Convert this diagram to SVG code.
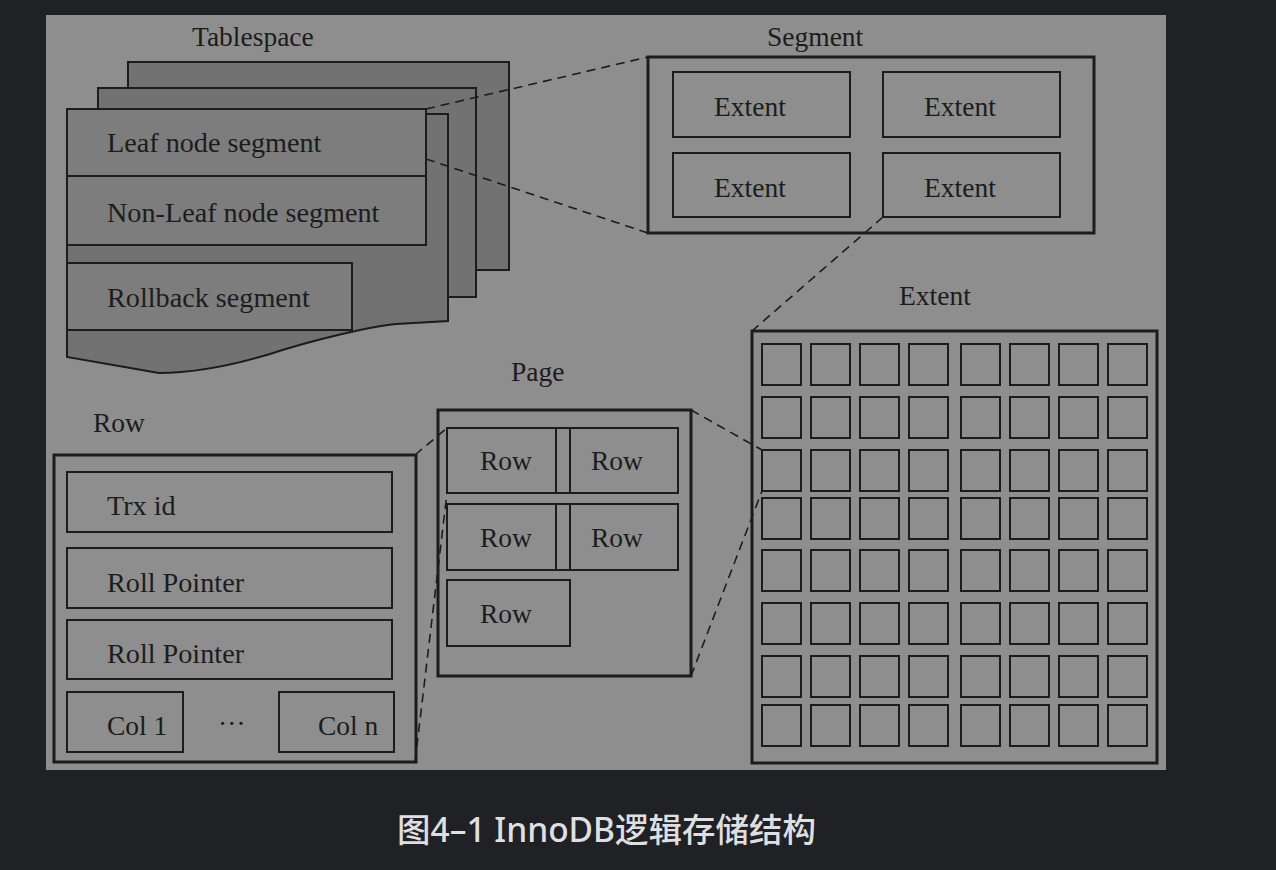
<svg xmlns="http://www.w3.org/2000/svg" xmlns:xlink="http://www.w3.org/1999/xlink" width="1276" height="870" viewBox="0 0 1276 870">
<style>
.t{font-family:"Liberation Serif","Times New Roman",serif;font-size:27.5px;fill:#1c1c1c}
.t2{font-size:28.2px}
.sheet{fill:#727272;stroke:#1c1c1c;stroke-width:2}
.box{fill:#7d7d7d;stroke:#1c1c1c;stroke-width:2}
.ib{fill:none;stroke:#1c1c1c;stroke-width:2}
.ob{fill:none;stroke:#1c1c1c;stroke-width:3}
.dash{fill:none;stroke:#1c1c1c;stroke-width:1.6;stroke-dasharray:9 6}
.cap{font-family:"Noto Sans","Noto Sans CJK SC",sans-serif;font-size:33.5px;font-weight:500;fill:#dedfe1}
</style>
<defs>
<rect id="sq" width="39" height="41" fill="none" stroke="#1c1c1c" stroke-width="2"/>
</defs>
<rect x="0" y="0" width="1276" height="870" fill="#202124"/>
<rect x="46" y="15" width="1120" height="755" fill="#8e8e8e"/>

<g id="tablespace">
<text class="t" x="192" y="46">Tablespace</text>
<rect class="sheet" x="128" y="62" width="381" height="208"/>
<rect class="sheet" x="98" y="88" width="378" height="209"/>
<path class="sheet" d="M67,109 H426 V114 H448 V321 L396,324 C360,328 300,344 270,354 C230,366 190,373 159,373 L67,357 Z"/>
<rect class="box" x="67" y="109" width="359" height="67"/>
<text class="t t2" x="107" y="152">Leaf node segment</text>
<rect class="box" x="67" y="176" width="359" height="69"/>
<text class="t t2" x="107" y="222">Non-Leaf node segment</text>
<rect class="box" x="67" y="263" width="285" height="67"/>
<text class="t t2" x="107" y="307">Rollback segment</text>
</g>

<g id="segment">
<text class="t" x="767" y="46">Segment</text>
<rect class="ob" x="648" y="57" width="446" height="176"/>
<rect class="ib" x="673" y="72" width="177" height="65"/>
<text class="t" x="714" y="116">Extent</text>
<rect class="ib" x="883" y="72" width="177" height="65"/>
<text class="t" x="924" y="116">Extent</text>
<rect class="ib" x="673" y="153" width="177" height="64"/>
<text class="t" x="714" y="197">Extent</text>
<rect class="ib" x="883" y="153" width="177" height="64"/>
<text class="t" x="924" y="197">Extent</text>
</g>

<g id="extent">
<text class="t" x="899" y="305">Extent</text>
<rect class="ob" x="752" y="331" width="405" height="432"/>
<g id="grid">
<use xlink:href="#sq" x="762" y="344"/><use xlink:href="#sq" x="811" y="344"/><use xlink:href="#sq" x="860" y="344"/><use xlink:href="#sq" x="909" y="344"/><use xlink:href="#sq" x="961" y="344"/><use xlink:href="#sq" x="1010" y="344"/><use xlink:href="#sq" x="1059" y="344"/><use xlink:href="#sq" x="1108" y="344"/>
<use xlink:href="#sq" x="762" y="397"/><use xlink:href="#sq" x="811" y="397"/><use xlink:href="#sq" x="860" y="397"/><use xlink:href="#sq" x="909" y="397"/><use xlink:href="#sq" x="961" y="397"/><use xlink:href="#sq" x="1010" y="397"/><use xlink:href="#sq" x="1059" y="397"/><use xlink:href="#sq" x="1108" y="397"/>
<use xlink:href="#sq" x="762" y="450"/><use xlink:href="#sq" x="811" y="450"/><use xlink:href="#sq" x="860" y="450"/><use xlink:href="#sq" x="909" y="450"/><use xlink:href="#sq" x="961" y="450"/><use xlink:href="#sq" x="1010" y="450"/><use xlink:href="#sq" x="1059" y="450"/><use xlink:href="#sq" x="1108" y="450"/>
<use xlink:href="#sq" x="762" y="498"/><use xlink:href="#sq" x="811" y="498"/><use xlink:href="#sq" x="860" y="498"/><use xlink:href="#sq" x="909" y="498"/><use xlink:href="#sq" x="961" y="498"/><use xlink:href="#sq" x="1010" y="498"/><use xlink:href="#sq" x="1059" y="498"/><use xlink:href="#sq" x="1108" y="498"/>
<use xlink:href="#sq" x="762" y="550"/><use xlink:href="#sq" x="811" y="550"/><use xlink:href="#sq" x="860" y="550"/><use xlink:href="#sq" x="909" y="550"/><use xlink:href="#sq" x="961" y="550"/><use xlink:href="#sq" x="1010" y="550"/><use xlink:href="#sq" x="1059" y="550"/><use xlink:href="#sq" x="1108" y="550"/>
<use xlink:href="#sq" x="762" y="603"/><use xlink:href="#sq" x="811" y="603"/><use xlink:href="#sq" x="860" y="603"/><use xlink:href="#sq" x="909" y="603"/><use xlink:href="#sq" x="961" y="603"/><use xlink:href="#sq" x="1010" y="603"/><use xlink:href="#sq" x="1059" y="603"/><use xlink:href="#sq" x="1108" y="603"/>
<use xlink:href="#sq" x="762" y="656"/><use xlink:href="#sq" x="811" y="656"/><use xlink:href="#sq" x="860" y="656"/><use xlink:href="#sq" x="909" y="656"/><use xlink:href="#sq" x="961" y="656"/><use xlink:href="#sq" x="1010" y="656"/><use xlink:href="#sq" x="1059" y="656"/><use xlink:href="#sq" x="1108" y="656"/>
<use xlink:href="#sq" x="762" y="705"/><use xlink:href="#sq" x="811" y="705"/><use xlink:href="#sq" x="860" y="705"/><use xlink:href="#sq" x="909" y="705"/><use xlink:href="#sq" x="961" y="705"/><use xlink:href="#sq" x="1010" y="705"/><use xlink:href="#sq" x="1059" y="705"/><use xlink:href="#sq" x="1108" y="705"/>
</g>
</g>

<g id="page">
<text class="t" x="511" y="381">Page</text>
<rect class="ob" x="438" y="410" width="253" height="266"/>
<rect class="ib" x="447" y="428" width="231" height="65"/>
<line class="ib" x1="556" y1="428" x2="556" y2="493"/>
<line class="ib" x1="570" y1="428" x2="570" y2="493"/>
<text class="t" x="480" y="470">Row</text>
<text class="t" x="591" y="470">Row</text>
<rect class="ib" x="447" y="504" width="231" height="66"/>
<line class="ib" x1="556" y1="504" x2="556" y2="570"/>
<line class="ib" x1="570" y1="504" x2="570" y2="570"/>
<text class="t" x="480" y="547">Row</text>
<text class="t" x="591" y="547">Row</text>
<rect class="ib" x="447" y="580" width="123" height="66"/>
<text class="t" x="480" y="623">Row</text>
</g>

<g id="row">
<text class="t" x="93" y="432">Row</text>
<rect class="ob" x="54" y="455" width="362" height="307"/>
<rect class="ib" x="67" y="472" width="325" height="60"/>
<text class="t t2" x="107" y="515">Trx id</text>
<rect class="ib" x="67" y="548" width="325" height="60"/>
<text class="t t2" x="107" y="592">Roll Pointer</text>
<rect class="ib" x="67" y="620" width="325" height="59"/>
<text class="t t2" x="107" y="663">Roll Pointer</text>
<rect class="ib" x="67" y="692" width="116" height="60"/>
<text class="t" x="107" y="735">Col 1</text>
<text class="t" x="218" y="725">…</text>
<rect class="ib" x="279" y="692" width="115" height="60"/>
<text class="t" x="318" y="735">Col n</text>
</g>

<g id="connectors">
<line class="dash" x1="426" y1="109" x2="648" y2="57"/>
<line class="dash" x1="426" y1="159" x2="648" y2="233"/>
<line class="dash" x1="883" y1="217" x2="752" y2="331"/>
<line class="dash" x1="691" y1="410" x2="762" y2="450"/>
<line class="dash" x1="691" y1="676" x2="762" y2="491"/>
<line class="dash" x1="415" y1="455" x2="447" y2="428"/>
<line class="dash" x1="415" y1="762" x2="447" y2="493"/>
</g>

<text class="cap" x="397" y="842">图4–1 InnoDB逻辑存储结构</text>
</svg>
